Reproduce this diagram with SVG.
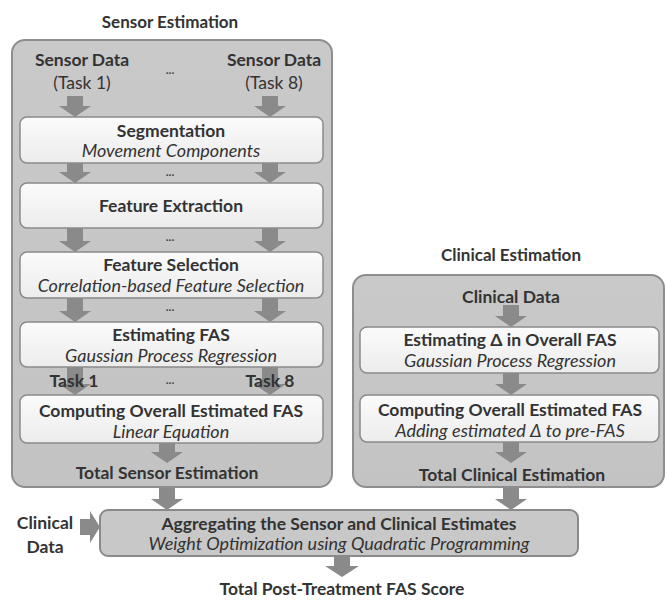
<svg xmlns="http://www.w3.org/2000/svg" width="667" height="603" viewBox="0 0 667 603">
<defs>
<linearGradient id="gIn" x1="0" y1="0" x2="0" y2="1">
<stop offset="0" stop-color="#fbfbfb"/><stop offset="1" stop-color="#ececec"/>
</linearGradient>
<linearGradient id="gOut" x1="0" y1="0" x2="0" y2="1">
<stop offset="0" stop-color="#c9c9c9"/><stop offset="1" stop-color="#c3c3c3"/>
</linearGradient>
</defs>
<style>
.outer{fill:url(#gOut);stroke:#8e8e8e;stroke-width:2}
.inner{fill:url(#gIn);stroke:#8a8a8a;stroke-width:1.5}
.agg{fill:#c8c8c8;stroke:#8a8a8a;stroke-width:2}
.arr{fill:#8a8a8a}
text{font-family:Lato,"Open Sans","Liberation Sans",sans-serif;fill:#333;text-anchor:middle}
.b{font-weight:bold;font-size:17.5px}
.i{font-style:italic;font-size:18px}
.t{font-weight:bold;font-size:17px}
.r{font-size:17.5px}
.d{font-weight:bold;font-size:12px;fill:#444}
</style>
<rect width="667" height="603" fill="#fff"/>
<g id="sensor-group">
<text class="t" x="170" y="28">Sensor Estimation</text>
<rect class="outer" x="12" y="40" width="320" height="447" rx="13"/>
</g>
<g id="clinical-group">
<text class="t" x="511" y="261">Clinical Estimation</text>
<rect class="outer" x="353" y="275" width="311" height="212" rx="13"/>
</g>
<g id="connectors">
<path class="arr" d="M67,96 h16 v10 h8 l-16,11 l-16,-11 h8 z"/>
<path class="arr" d="M262,96 h16 v10 h8 l-16,11 l-16,-11 h8 z"/>
<path class="arr" d="M67,163 h16 v9 h8 l-16,11 l-16,-11 h8 z"/>
<path class="arr" d="M262,163 h16 v9 h8 l-16,11 l-16,-11 h8 z"/>
<path class="arr" d="M67,228 h16 v13 h8 l-16,11 l-16,-11 h8 z"/>
<path class="arr" d="M262,228 h16 v13 h8 l-16,11 l-16,-11 h8 z"/>
<path class="arr" d="M67,298 h16 v13 h8 l-16,11 l-16,-11 h8 z"/>
<path class="arr" d="M262,298 h16 v13 h8 l-16,11 l-16,-11 h8 z"/>
<path class="arr" d="M67,367 h16 v17 h8 l-16,11 l-16,-11 h8 z"/>
<path class="arr" d="M262,367 h16 v17 h8 l-16,11 l-16,-11 h8 z"/>
<path class="arr" d="M159,443 h16 v9 h8 l-16,11 l-16,-11 h8 z"/>
<path class="arr" d="M159,488 h16 v11 h8 l-16,11 l-16,-11 h8 z"/>
<path class="arr" d="M503,305 h16 v11 h8 l-16,11 l-16,-11 h8 z"/>
<path class="arr" d="M503,373 h16 v11 h8 l-16,11 l-16,-11 h8 z"/>
<path class="arr" d="M503,442 h16 v10 h8 l-16,11 l-16,-11 h8 z"/>
<path class="arr" d="M503,488 h16 v11 h8 l-16,11 l-16,-11 h8 z"/>
<path class="arr" d="M334,556 h16 v10 h9 l-17,11 l-17,-11 h9 z"/>
<path class="arr" d="M80,519 v16 h10 v8 l10,-16 l-10,-16 v8 z"/>
<text class="d" x="170" y="74">...</text>
<text class="d" x="170" y="176">...</text>
<text class="d" x="170" y="241">...</text>
<text class="d" x="170" y="311">...</text>
<text class="d" x="170" y="384">...</text>
</g>
<g id="sensor-data">
<text class="b" x="82" y="66">Sensor Data</text>
<text class="r" x="82" y="89">(Task 1)</text>
<text class="b" x="274" y="66">Sensor Data</text>
<text class="r" x="274" y="89">(Task 8)</text>
</g>
<g id="segmentation">
<rect class="inner" x="20" y="117" width="303" height="46" rx="7"/>
<text class="b" x="171" y="137">Segmentation</text>
<text class="i" x="171" y="157">Movement Components</text>
</g>
<g id="feature-extraction">
<rect class="inner" x="20" y="183" width="303" height="45" rx="7"/>
<text class="b" x="171" y="212">Feature Extraction</text>
</g>
<g id="feature-selection">
<rect class="inner" x="20" y="252" width="303" height="46" rx="7"/>
<text class="b" x="171" y="271">Feature Selection</text>
<text class="i" x="171" y="292">Correlation-based Feature Selection</text>
</g>
<g id="estimating-fas">
<rect class="inner" x="20" y="322" width="303" height="45" rx="7"/>
<text class="b" x="171" y="341">Estimating FAS</text>
<text class="i" x="171" y="362">Gaussian Process Regression</text>
</g>
<g id="task-labels">
<text class="b" x="74" y="387">Task 1</text>
<text class="b" x="270" y="387">Task 8</text>
</g>
<g id="computing-sensor">
<rect class="inner" x="20" y="395" width="303" height="48" rx="7"/>
<text class="b" x="171" y="417">Computing Overall Estimated FAS</text>
<text class="i" x="171" y="438">Linear Equation</text>
</g>
<g id="total-sensor">
<text class="b" x="167" y="479">Total Sensor Estimation</text>
</g>
<g id="clinical-data">
<text class="b" x="511" y="303">Clinical Data</text>
</g>
<g id="estimating-delta">
<rect class="inner" x="360" y="327" width="299" height="46" rx="7"/>
<text class="b" x="510" y="346">Estimating Δ in Overall FAS</text>
<text class="i" x="510" y="367">Gaussian Process Regression</text>
</g>
<g id="computing-clinical">
<rect class="inner" x="360" y="395" width="299" height="47" rx="7"/>
<text class="b" x="510" y="416">Computing Overall Estimated FAS</text>
<text class="i" x="510" y="437">Adding estimated Δ to pre-FAS</text>
</g>
<g id="total-clinical">
<text class="b" x="512" y="481">Total Clinical Estimation</text>
</g>
<g id="clinical-data-left">
<text class="b" x="45" y="529">Clinical</text>
<text class="b" x="45" y="553">Data</text>
</g>
<g id="aggregating">
<rect class="agg" x="100" y="510" width="478" height="46" rx="8"/>
<text class="b" x="339" y="530">Aggregating the Sensor and Clinical Estimates</text>
<text class="i" x="339" y="550">Weight Optimization using Quadratic Programming</text>
</g>
<g id="total-score">
<text class="b" x="342" y="595">Total Post-Treatment FAS Score</text>
</g>
</svg>
